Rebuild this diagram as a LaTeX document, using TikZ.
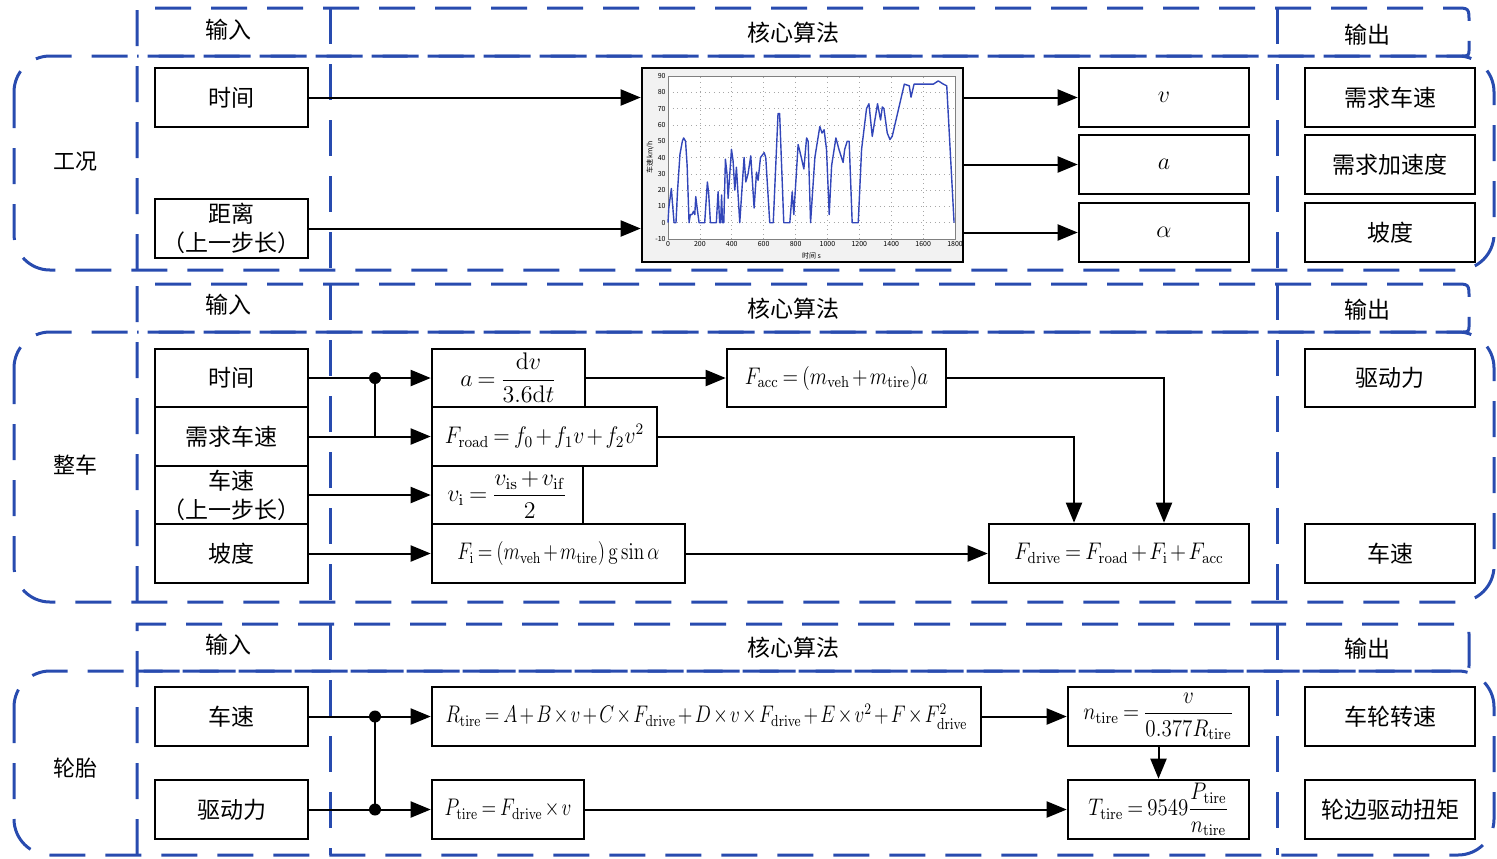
\documentclass[tikz,border=0pt]{standalone}
\usepackage{amsmath}
\usepackage{graphicx}
\usepackage[no-math]{fontspec}
\setmainfont{Noto Sans CJK SC}
\usetikzlibrary{arrows.meta,fit,calc}
\definecolor{dblue}{RGB}{40,75,175}
\definecolor{curveblue}{RGB}{50,70,185}
\medmuskip=2mu\relax
\thickmuskip=3.5mu\relax
\newcommand{\hsq}[2]{\scalebox{#1}[1]{#2}}
\tikzset{
 region/.style={draw=dblue, line width=1.5pt, dash pattern=on 18pt off 10pt},
 box/.style={draw, line width=1.3pt, inner sep=0pt, align=center, font=\fontsize{11.5}{14.5}\selectfont},
 mbox/.style={box, font=\fontsize{12}{14}\selectfont},
 w765/.style={minimum width=76.5pt},
 hfull/.style={minimum height=29.5pt},
 conn/.style={line width=1pt},
 arr/.style={conn, -{Triangle[length=10pt,width=8pt]}},
 jdot/.style={circle, fill, inner sep=0pt, minimum size=6pt},
 hlabel/.style={font=\fontsize{11.5}{14}\selectfont},
 slabel/.style={font=\fontsize{11}{13}\selectfont},
 chartframe/.style={draw, line width=1.3pt, fill=gray!10, inner sep=0pt},
 gridline/.style={gray!70, line width=0.3pt, dotted},
 tick/.style={font=\fontsize{3.5}{4}\selectfont, inner sep=1pt},
}
\begin{document}
\begin{tikzpicture}[x=0.5pt,y=-0.5pt]
\useasboundingbox (0,0) rectangle (1497,858);

% ---------- dashed frames ----------
\foreach \T/\H/\B in {8/56/270,284/332/602,624/671/855}{
  \draw[region, rounded corners=18pt] (14,\H) rectangle (1494,\B);
  \draw[region] (137,\B) -- (137,\T) -- (1455,\T) .. controls (1469,\T) .. (1469,\T+14) -- (1469,\H-8) .. controls (1469,\H) .. (1461,\H) -- (137,\H);
  \draw[region] (330,\T) -- (330,\B);
  \draw[region] (1277,\T) -- (1277,\B);
}

% ---------- headers ----------
\node[hlabel] (in1) at (228,30) {输入};
\node[hlabel] (core1) at (793,33) {核心算法};
\node[hlabel] (out1) at (1367,35) {输出};
\node[hlabel] (in2) at (228,305) {输入};
\node[hlabel] (core2) at (793,309) {核心算法};
\node[hlabel] (out2) at (1367,310) {输出};
\node[hlabel] (in3) at (228,645) {输入};
\node[hlabel] (core3) at (793,648) {核心算法};
\node[hlabel] (out3) at (1367,649) {输出};

\node[slabel] (sec1) at (75,162) {工况};
\node[slabel] (sec2) at (75,465) {整车};
\node[slabel] (sec3) at (75,768) {轮胎};

% ---------- section 1 ----------
\node[box, w765, hfull] (t1) at (231.5,97.5) {时间};
\node[box, w765, hfull] (d1) at (231.5,228.5) {距离\\（上一步长）};
\node[chartframe, fit={(642,68)(963,262)}] (chart) {};
\node[mbox, minimum width=85pt, hfull] (ov) at (1164,97.5) {$v$};
\node[mbox, minimum width=85pt, hfull] (oa) at (1164,164.5) {$a$};
\node[mbox, minimum width=85pt, hfull] (oal) at (1164,232.5) {$\alpha$};
\node[box, minimum width=85pt, hfull] (r1) at (1390,97.5) {需求车速};
\node[box, minimum width=85pt, hfull] (r2) at (1390,164.5) {需求加速度};
\node[box, minimum width=85pt, hfull] (r3) at (1390,232.5) {坡度};

% chart content
\begin{scope}[shift={(668,222.7)}, x=0.079722pt, y=0.815pt]
  \fill[white] (0,-10) rectangle (1800,90);
  \foreach \t in {200,400,...,1600} \draw[gridline] (\t,-10) -- (\t,90);
  \foreach \s in {0,10,...,80} \draw[gridline] (0,\s) -- (1800,\s);
  \draw[gray, line width=0.4pt] (0,-10) rectangle (1800,90);
  \foreach \t in {0,200,...,1800} \node[tick, anchor=north] at (\t,-10) {\t};
  \foreach \s in {-10,0,...,90} \node[tick, anchor=east] at (0,\s) {\s};
  \node[tick, rotate=90, anchor=south] at (-75,40) {车速 km/h};
  \node[tick, anchor=north] at (900,-17) {时间 s};
  \draw[curveblue, line width=0.7pt, line join=round] plot coordinates {
   (0,0) (5,9) (21,21) (28,12) (38,0) (50,0) (60,20) (75,42) (90,50) (98,52) (110,50) (120,35) (132,0)
   (140,5) (150,5) (160,7) (168,5) (174,16) (184,8) (195,0) (230,0) (247,25) (255,18) (266,0) (303,0)
   (314,19) (324,0) (330,0) (336,17) (342,0) (350,0) (360,39) (370,30) (377,15) (398,45) (408,38)
   (419,20) (429,34) (450,0) (477,40) (488,25) (502,30) (519,41) (540,9) (555,31) (565,26) (580,40)
   (603,43) (613,40) (638,0) (660,0) (690,67) (700,67) (726,0) (764,0) (779,19) (789,5) (816,48)
   (836,40) (852,33) (869,52) (879,50) (894,0) (921,40) (952,59) (966,55) (979,57) (994,45) (1011,5)
   (1026,35) (1053,52) (1072,45) (1088,40) (1098,37) (1108,45) (1124,50) (1136,50) (1155,0) (1193,0)
   (1214,45) (1245,70) (1260,73) (1281,53) (1314,73) (1333,63) (1344,71) (1354,70) (1375,55)
   (1392,51) (1406,53) (1482,85) (1513,84) (1524,77) (1543,85) (1664,85) (1695,87) (1727,85)
   (1748,84) (1794,0)};
\end{scope}

\draw[arr] (t1.east) -- (t1.east -| chart.west);
\draw[arr] (d1.east) -- (d1.east -| chart.west);
\draw[arr] (chart.east |- ov.west) -- (ov.west);
\draw[arr] (chart.east |- oa.west) -- (oa.west);
\draw[arr] (chart.east |- oal.west) -- (oal.west);

% ---------- section 2 ----------
\node[box, w765, minimum height=29pt] (t2) at (231.5,378) {时间};
\node[box, w765, hfull] (v2) at (231.5,436.5) {需求车速};
\node[box, w765, minimum height=29pt] (p2) at (231.5,495) {车速\\（上一步长）};
\node[box, w765, hfull] (g2) at (231.5,553.5) {坡度};

\node[mbox, minimum width=76.5pt, minimum height=29pt] (aeq) at (508.5,378) {$a=\dfrac{\mathrm{d}v}{3.6\mathrm{d}t}$};
\node[mbox, minimum width=112.5pt, hfull] (froad) at (544.5,436.5) {\hsq{0.9}{$F_{\mathrm{road}}=f_0+f_1v+f_2v^2$}};
\node[mbox, minimum width=75.5pt, minimum height=29pt] (vi) at (507.5,495) {$v_{\mathrm{i}}=\dfrac{v_{\mathrm{is}}+v_{\mathrm{if}}}{2}$};
\node[mbox, minimum width=126.5pt, hfull] (fi) at (558.5,553.5) {\hsq{0.8}{$F_{\mathrm{i}}=(m_{\mathrm{veh}}+m_{\mathrm{tire}})\,\mathrm{g}\sin\alpha$}};
\node[mbox, minimum width=109.5pt, minimum height=29pt] (facc) at (836.5,378) {\hsq{0.85}{$F_{\mathrm{acc}}=(m_{\mathrm{veh}}+m_{\mathrm{tire}})a$}};
\node[mbox, minimum width=130pt, hfull] (fdrive) at (1119,553.5) {\hsq{0.88}{$F_{\mathrm{drive}}=F_{\mathrm{road}}+F_{\mathrm{i}}+F_{\mathrm{acc}}$}};
\node[box, minimum width=85pt, minimum height=29pt] (r4) at (1390,378) {驱动力};
\node[box, minimum width=85pt, hfull] (r5) at (1390,553.5) {车速};

\coordinate (j1) at (375,378);
\draw[arr] (t2.east) -- (aeq.west);
\draw[conn] (j1) -- (j1 |- v2.east);
\draw[arr] (v2.east) -- (froad.west);
\node[jdot] (dot1) at (j1) {};
\draw[arr] (p2.east) -- (vi.west);
\draw[arr] (g2.east) -- (fi.west);
\draw[arr] (fi.east) -- (fdrive.west);
\draw[arr] (aeq.east) -- (facc.west);
\draw[arr] (facc.east) -| ([xshift=22.5pt]fdrive.north);
\draw[arr] (froad.east) -| ([xshift=-22.5pt]fdrive.north);

% ---------- section 3 ----------
\node[box, w765, hfull] (v3) at (231.5,716.5) {车速};
\node[box, w765, hfull] (f3) at (231.5,809.5) {驱动力};
\node[mbox, minimum width=274.5pt, hfull] (rt) at (706.5,716.5) {\hsq{0.8}{$R_{\mathrm{tire}}=A+B\times v+C\times F_{\mathrm{drive}}+D\times v\times F_{\mathrm{drive}}+E\times v^2+F\times F_{\mathrm{drive}}^2$}};
\node[mbox, minimum width=76pt, hfull] (pt) at (508,809.5) {\hsq{0.8}{$P_{\mathrm{tire}}=F_{\mathrm{drive}}\times v$}};
\node[mbox, minimum width=90.5pt, hfull] (nt) at (1158.5,716.5) {\hsq{0.88}{$n_{\mathrm{tire}}=\dfrac{v}{0.377R_{\mathrm{tire}}}$}};
\node[mbox, minimum width=90.5pt, hfull] (tt) at (1158.5,809.5) {\hsq{0.87}{$T_{\mathrm{tire}}=9549\dfrac{P_{\mathrm{tire}}}{n_{\mathrm{tire}}}$}};
\node[box, minimum width=85pt, hfull] (r6) at (1390,716.5) {车轮转速};
\node[box, minimum width=85pt, hfull] (r7) at (1390,809.5) {轮边驱动扭矩};

\coordinate (j2) at (375,716.5);
\coordinate (j3) at (375,809.5);
\draw[arr] (v3.east) -- (rt.west);
\draw[arr] (f3.east) -- (pt.west);
\draw[conn] (j2) -- (j3);
\node[jdot] (dot2) at (j2) {};
\node[jdot] (dot3) at (j3) {};
\draw[arr] (rt.east) -- (nt.west);
\draw[arr] (pt.east) -- (tt.west);
\draw[arr] (nt.south) -- (tt.north);
\end{tikzpicture}
\end{document}
